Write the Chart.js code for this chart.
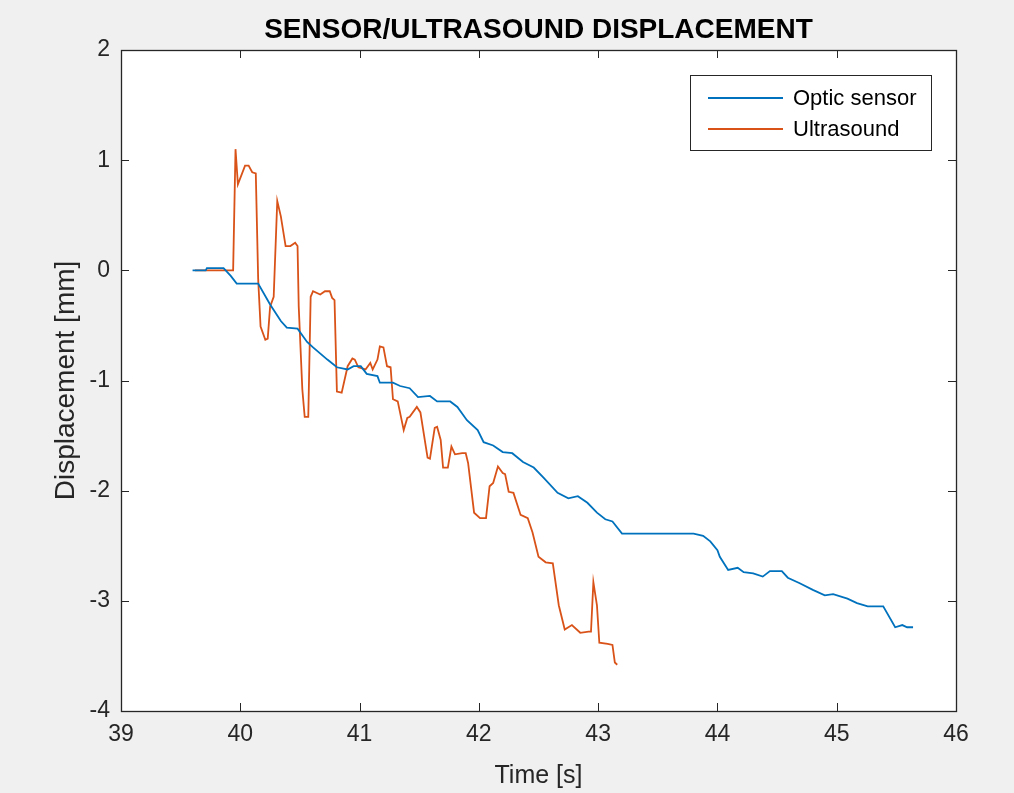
<!DOCTYPE html>
<html><head><meta charset="utf-8">
<script src="https://cdn.jsdelivr.net/npm/chart.js@4/dist/chart.umd.min.js"></script>
<style>html,body{margin:0;padding:0;background:#f0f0f0;overflow:hidden}</style>
</head><body><canvas id="c" width="1014" height="793"></canvas>
<script>
// ---- data ----
const titleText = 'SENSOR/ULTRASOUND DISPLACEMENT';
const seriesLabels = ['Optic sensor', 'Ultrasound'];
const xTicks = [39, 40, 41, 42, 43, 44, 45, 46];
const yTicks = [-4, -3, -2, -1, 0, 1, 2];

const opticTime = [39.60,39.71,39.72,39.86,39.92,39.97,40.15,40.25,40.34,40.39,40.48,40.56,40.61,40.73,40.81,40.90,40.95,41.01,41.06,41.15,41.17,41.28,41.34,41.42,41.49,41.59,41.65,41.76,41.82,41.90,41.99,42.04,42.12,42.20,42.28,42.37,42.46,42.54,42.66,42.75,42.83,42.91,42.99,43.06,43.12,43.20,43.80,43.88,43.94,44.00,44.02,44.09,44.17,44.22,44.30,44.38,44.44,44.54,44.59,44.69,44.80,44.90,44.97,45.09,45.17,45.26,45.39,45.49,45.55,45.59,45.64];
const opticDisp = [0,0,0.02,0.02,-0.05,-0.12,-0.12,-0.31,-0.46,-0.52,-0.53,-0.65,-0.70,-0.81,-0.88,-0.90,-0.87,-0.87,-0.94,-0.96,-1.02,-1.02,-1.05,-1.07,-1.15,-1.14,-1.19,-1.19,-1.24,-1.36,-1.45,-1.56,-1.59,-1.65,-1.66,-1.74,-1.79,-1.88,-2.02,-2.07,-2.05,-2.11,-2.20,-2.26,-2.28,-2.39,-2.39,-2.41,-2.46,-2.54,-2.60,-2.72,-2.70,-2.74,-2.75,-2.78,-2.73,-2.73,-2.79,-2.84,-2.90,-2.95,-2.94,-2.98,-3.02,-3.05,-3.05,-3.24,-3.22,-3.24,-3.24];

const usTime = [39.62,39.94,39.96,39.98,40.04,40.07,40.10,40.13,40.15,40.17,40.21,40.23,40.25,40.28,40.31,40.34,40.38,40.42,40.46,40.48,40.49,40.52,40.54,40.57,40.59,40.61,40.67,40.71,40.75,40.77,40.79,40.81,40.85,40.90,40.94,40.96,40.99,41.05,41.09,41.11,41.15,41.17,41.20,41.23,41.26,41.28,41.32,41.37,41.40,41.42,41.48,41.51,41.57,41.59,41.63,41.65,41.68,41.70,41.74,41.77,41.80,41.86,41.89,41.91,41.96,42.01,42.06,42.09,42.12,42.16,42.20,42.22,42.25,42.29,42.35,42.41,42.45,42.50,42.56,42.62,42.67,42.72,42.78,42.85,42.92,42.94,42.96,42.99,43.01,43.08,43.12,43.14,43.16];
const usDisp = [0,0,1.10,0.78,0.95,0.95,0.89,0.88,-0.08,-0.51,-0.63,-0.62,-0.33,-0.24,0.63,0.49,0.22,0.22,0.25,0.22,-0.33,-1.08,-1.33,-1.33,-0.24,-0.19,-0.22,-0.19,-0.19,-0.25,-0.27,-1.10,-1.11,-0.87,-0.80,-0.81,-0.88,-0.90,-0.84,-0.90,-0.81,-0.69,-0.70,-0.87,-0.88,-1.17,-1.19,-1.45,-1.34,-1.33,-1.24,-1.29,-1.70,-1.71,-1.43,-1.42,-1.54,-1.79,-1.79,-1.60,-1.67,-1.66,-1.66,-1.75,-2.20,-2.25,-2.25,-1.96,-1.93,-1.78,-1.84,-1.85,-2.01,-2.02,-2.22,-2.25,-2.38,-2.60,-2.65,-2.66,-3.04,-3.26,-3.22,-3.29,-3.28,-3.28,-2.83,-3.04,-3.38,-3.39,-3.40,-3.56,-3.58];

const colors = ['#0072BD', '#D95319'];

// ---- chart ----
const FONT = '"Liberation Sans", Arial, Helvetica, sans-serif';
Chart.defaults.font.family = FONT;
const AXC = '#262626';

const toPts = (xs, ys) => xs.map((x, i) => ({x: x, y: ys[i]}));

const plotBg = {
  id: 'plotBg',
  beforeDraw(chart) {
    const {ctx, chartArea: a} = chart;
    ctx.save();
    ctx.fillStyle = '#ffffff';
    ctx.fillRect(a.left, a.top, a.right - a.left, a.bottom - a.top);
    ctx.restore();
  }
};

const plotTitle = {
  id: 'plotTitle',
  afterDraw(chart) {
    const {ctx, chartArea: a} = chart;
    ctx.save();
    ctx.font = 'bold 28px ' + FONT;
    ctx.fillStyle = '#000';
    ctx.textAlign = 'center';
    ctx.textBaseline = 'alphabetic';
    ctx.fillText(titleText, (a.left + a.right) / 2, a.top - 12);
    ctx.restore();
  }
};

const frame = {
  id: 'frame',
  afterDatasetsDraw(chart) {
    const {ctx, chartArea: a, scales} = chart;
    const tl = 8;
    ctx.save();
    ctx.strokeStyle = AXC;
    ctx.lineWidth = 1;
    ctx.beginPath();
    xTicks.forEach(v => {
      const px = Math.round(scales.x.getPixelForValue(v)) + 0.5;
      ctx.moveTo(px, a.bottom); ctx.lineTo(px, a.bottom - tl);
      ctx.moveTo(px, a.top); ctx.lineTo(px, a.top + tl);
    });
    yTicks.forEach(v => {
      const py = Math.round(scales.y.getPixelForValue(v)) + 0.5;
      ctx.moveTo(a.left, py); ctx.lineTo(a.left + tl, py);
      ctx.moveTo(a.right, py); ctx.lineTo(a.right - tl, py);
    });
    ctx.stroke();
    ctx.lineWidth = 1.3;
    ctx.strokeRect(Math.round(a.left) + 0.5, Math.round(a.top) + 0.5, Math.round(a.right - a.left), Math.round(a.bottom - a.top));
    ctx.restore();
  }
};

const boxLegend = {
  id: 'boxLegend',
  afterDraw(chart) {
    const {ctx, chartArea: a} = chart;
    const x0 = a.right - 25 - 241, y0 = a.top + 25, w = 241, h = 75;
    ctx.save();
    ctx.fillStyle = '#ffffff';
    ctx.fillRect(x0, y0, w, h);
    ctx.strokeStyle = AXC;
    ctx.lineWidth = 1;
    ctx.strokeRect(x0 + 0.5, y0 + 0.5, w, h);
    ctx.font = '22px ' + FONT;
    ctx.textBaseline = 'middle';
    ctx.fillStyle = '#000';
    chart.data.datasets.forEach((ds, i) => {
      const yy = y0 + 23 + i * 31;
      ctx.strokeStyle = ds.borderColor;
      ctx.lineWidth = 1.8;
      ctx.beginPath();
      ctx.moveTo(x0 + 18, yy); ctx.lineTo(x0 + 93, yy);
      ctx.stroke();
      ctx.fillText(ds.label, x0 + 103, yy + 1);
    });
    ctx.restore();
  }
};

new Chart(document.getElementById('c'), {
  type: 'line',
  data: {
    datasets: [
      {label: seriesLabels[0], data: toPts(opticTime, opticDisp), borderColor: colors[0], backgroundColor: colors[0], borderWidth: 1.8, pointRadius: 0, tension: 0, fill: false},
      {label: seriesLabels[1], data: toPts(usTime, usDisp), borderColor: colors[1], backgroundColor: colors[1], borderWidth: 1.8, pointRadius: 0, tension: 0, fill: false}
    ]
  },
  options: {
    responsive: false,
    animation: false,
    layout: {padding: {left: 0, right: 58, top: 50, bottom: 0}},
    plugins: {
      legend: {display: false},
      tooltip: {enabled: false},
      title: {display: false}
    },
    scales: {
      x: {
        type: 'linear', min: 39, max: 46,
        afterBuildTicks: s => { s.ticks = xTicks.map(v => ({value: v})); },
        ticks: {color: AXC, font: {size: 23}, padding: 10, maxRotation: 0},
        grid: {display: false, drawTicks: false},
        border: {display: false},
        title: {display: true, text: 'Time [s]', color: AXC, font: {size: 25}, padding: {top: 0, bottom: 2}},
        afterFit: s => { s.height = 82; }
      },
      y: {
        type: 'linear', min: -4, max: 2,
        afterBuildTicks: s => { s.ticks = yTicks.map(v => ({value: v})); },
        ticks: {color: AXC, font: {size: 23}, padding: 11},
        grid: {display: false, drawTicks: false},
        border: {display: false},
        title: {display: true, text: 'Displacement [mm]', color: AXC, font: {size: 28}, padding: {top: 49, bottom: 0}},
        afterFit: s => { s.width = 121; }
      }
    }
  },
  plugins: [plotBg, frame, boxLegend, plotTitle]
});
</script>
</body></html>
